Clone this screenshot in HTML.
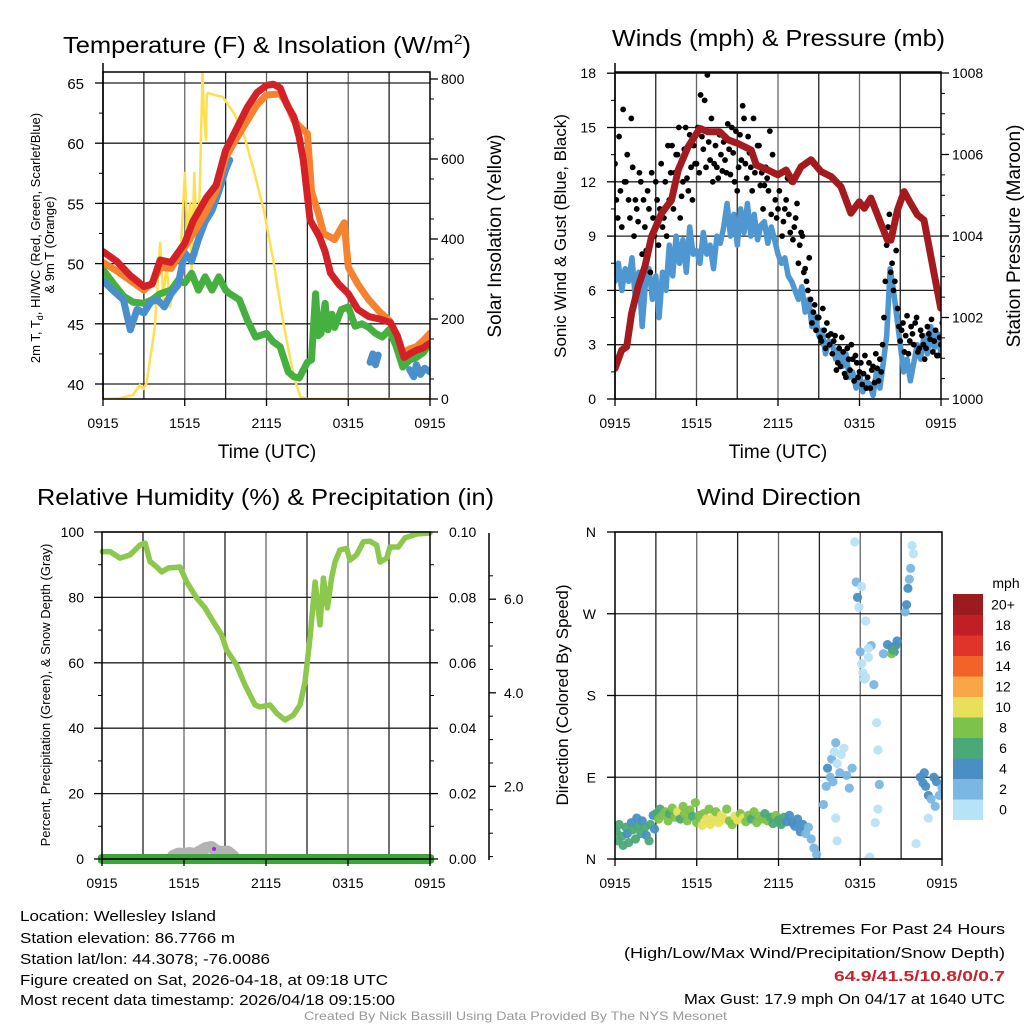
<!DOCTYPE html>
<html><head><meta charset="utf-8"><style>
html,body{margin:0;padding:0;background:#fff;}
svg{display:block;font-family:"Liberation Sans",sans-serif;}
</style></head><body>
<svg id="fig" width="1024" height="1024" viewBox="0 0 1024 1024" xmlns="http://www.w3.org/2000/svg">
<defs>
<clipPath id="c1"><rect x="103" y="72" width="327" height="327"/></clipPath>
<clipPath id="c2"><rect x="615" y="72" width="326" height="327"/></clipPath>
<clipPath id="c3"><rect x="98" y="532" width="336" height="334"/></clipPath>
<clipPath id="c4"><rect x="615" y="532" width="327" height="327"/></clipPath>
</defs>
<g font-size="23" fill="#000">
<text x="63" y="53" textLength="408" lengthAdjust="spacingAndGlyphs">Temperature (F) &amp; Insolation (W/m<tspan font-size="14" dy="-9">2</tspan><tspan dy="9">)</tspan></text>
<text x="612" y="46" textLength="333" lengthAdjust="spacingAndGlyphs">Winds (mph) &amp; Pressure (mb)</text>
<text x="37" y="505" textLength="457" lengthAdjust="spacingAndGlyphs">Relative Humidity (%) &amp; Precipitation (in)</text>
<text x="697" y="505" textLength="164" lengthAdjust="spacingAndGlyphs">Wind Direction</text>
</g>
<g font-size="19">
<text x="267" y="458" text-anchor="middle">Time (UTC)</text>
<text x="778" y="458" text-anchor="middle">Time (UTC)</text>
<text transform="translate(501,236) rotate(-90)" text-anchor="middle">Solar Insolation (Yellow)</text>
<text transform="translate(1020,236) rotate(-90)" text-anchor="middle">Station Pressure (Maroon)</text>
</g>
<text font-size="17" transform="translate(566,236) rotate(-90)" text-anchor="middle">Sonic Wind &amp; Gust (Blue, Black)</text>
<text font-size="17" transform="translate(568,695) rotate(-90)" text-anchor="middle">Direction (Colored By Speed)</text>
<text font-size="13" transform="translate(40,238) rotate(-90)" text-anchor="middle">2m T, T<tspan font-size="9" dy="3">d</tspan><tspan dy="-3">, HI/WC (Red, Green, Scarlet/Blue)</tspan></text>
<text font-size="13" transform="translate(54,245) rotate(-90)" text-anchor="middle">&amp; 9m T (Orange)</text>
<text font-size="13" transform="translate(50,695) rotate(-90)" text-anchor="middle">Percent, Precipitation (Green), &amp; Snow Depth (Gray)</text>
<g id="dyn"></g>
<g font-size="15">
<text x="20" y="921" textLength="196" lengthAdjust="spacingAndGlyphs">Location: Wellesley Island</text>
<text x="20" y="943" textLength="215" lengthAdjust="spacingAndGlyphs">Station elevation: 86.7766 m</text>
<text x="20" y="964" textLength="250" lengthAdjust="spacingAndGlyphs">Station lat/lon: 44.3078; -76.0086</text>
<text x="20" y="985" textLength="368" lengthAdjust="spacingAndGlyphs">Figure created on Sat, 2026-04-18, at 09:18 UTC</text>
<text x="20" y="1005" textLength="375" lengthAdjust="spacingAndGlyphs">Most recent data timestamp: 2026/04/18 09:15:00</text>
<text x="780" y="934" textLength="225" lengthAdjust="spacingAndGlyphs">Extremes For Past 24 Hours</text>
<text x="624" y="958" textLength="381" lengthAdjust="spacingAndGlyphs">(High/Low/Max Wind/Precipitation/Snow Depth)</text>
<text x="834" y="981" textLength="171" lengthAdjust="spacingAndGlyphs" fill="#cc2229" font-weight="bold">64.9/41.5/10.8/0/0.7</text>
<text x="684" y="1004" textLength="321" lengthAdjust="spacingAndGlyphs">Max Gust: 17.9 mph On 04/17 at 1640 UTC</text>
</g>
<text x="304" y="1020" font-size="12" fill="#999" textLength="423" lengthAdjust="spacingAndGlyphs">Created By Nick Bassill Using Data Provided By The NYS Mesonet</text>
</svg>
<script>
// ---------- data ----------
const xTickLabels = ["0915","1515","2115","0315","0915"];
const tempTicks = [40,45,50,55,60,65];
const solarTicks = [0,200,400,600,800];
const windTicks = [0,3,6,9,12,15,18];
const presTicks = [1000,1002,1004,1006,1008];
const rhTicks = [0,20,40,60,80,100];
const precipTicks = ["0.00","0.02","0.04","0.06","0.08","0.10"];
const snowTicks = [2.0,4.0,6.0];
const dirTicks = ["N","E","S","W","N"];
const cbLabels = ["0","2","4","6","8","10","12","14","16","18","20+"];
const cbColors = ["#b8e2f5","#7ab7e2","#4a8fc4","#4aa977","#7dc24a","#e8e05a","#f8a647","#f26327","#e0342a","#c11f25","#9b1b1e"];

const redH = [0,1,2,3,3.6,4.2,5,6,6.6,7.6,8.3,9,9.8,10.6,11.3,12,12.5,13,13.5,14,14.4,14.7,15.2,15.6,15.9,16.3,16.7,17.3,18,18.7,19.5,20.3,21.1,21.6,22.1,22.5,23,23.5,24];
const redT = [51.0,50.2,49.0,48.1,48.3,50.3,50.1,51.7,53.5,55.5,56.5,59.4,61.2,63.0,64.2,64.8,64.9,64.6,63.2,62.2,60.5,58.6,53.6,52.8,52.2,51.0,49.2,48.3,47.5,46.2,45.6,45.4,45.1,44.0,42.2,42.5,42.8,43.0,43.4];
const orangeH = [0,1,2,3,3.6,4.2,5,6,6.8,7.6,8.3,9,9.8,10.6,11.3,12,13,13.5,14,14.5,15,15.3,15.8,16.2,17,17.7,18,18.7,19.5,20.3,21,21.6,22,22.5,23,23.5,24];
const orangeT = [50.1,49.4,48.6,47.8,48.4,49.7,49.6,51.4,52.8,54.4,56.0,58.8,60.4,61.9,63.2,64.0,64.1,63.3,61.9,61.3,60.8,56.0,54.2,52.5,52.0,53.4,49.7,48.3,47.0,46.0,45.3,44.0,42.6,42.9,43.1,43.6,44.2];
const blueH = [0,0.7,1.5,2,2.5,3,3.5,4,4.5,5,5.5,6,6.5,7,7.5,8,8.5,9,9.3,null,19.6,19.8,20,20.2,null,22.5,22.8,23,23.3,23.6,24];
const blueT = [48.6,47.8,47.0,44.5,46.2,45.9,46.8,47.0,46.4,47.5,48.2,50.9,50.2,52.0,53.5,54.4,56.0,57.8,58.6,null,41.8,42.5,41.6,42.4,null,41.2,40.6,41.6,40.8,41.3,41.0];
const greenH = [0,0.8,1.5,2.2,3,3.6,4.2,5,5.5,6,6.5,7,7.5,8,8.5,9,9.3,10,10.6,11.2,12,12.5,13,13.6,14,14.4,15,15.3,15.6,15.8,16,16.3,16.5,16.8,17,17.5,18,18.5,19,19.5,20,20.5,21,21.5,22,22.5,23,23.5,24];
const greenT = [49.5,48.3,47.3,46.8,46.7,47.0,47.5,47.8,48.6,48.4,49.2,47.8,48.9,47.8,48.9,47.8,47.5,47.0,45.3,43.9,44.2,43.5,43.1,41.0,40.6,40.5,41.8,42.0,47.5,44.0,44.2,46.7,44.5,45.8,44.7,46.2,46.4,44.8,45.0,44.7,44.2,43.9,44.5,43.2,41.4,42.0,42.2,42.6,43.4];
const solarH = [0,1.25,2.2,2.7,2.96,3.2,3.45,3.8,4.2,4.43,4.67,4.9,5.15,5.4,5.65,6.0,6.2,6.4,6.5,6.7,6.9,7.1,7.3,7.4,7.55,7.62,7.7,8.2,8.8,9.6,10.3,11.0,11.8,12.5,13.2,14.0,14.5,15,24];
const solarW = [0,2,10,35,25,40,97,180,390,250,340,230,270,272,330,565,415,490,315,565,360,515,815,720,648,760,765,760,755,715,665,580,472,347,198,55,5,0,0];

const pressH = [0,0.49,0.86,1.22,1.71,2.2,2.69,3.43,4.16,4.65,5.38,6.24,6.85,7.71,8.32,9.05,10.03,10.4,11.25,11.99,12.6,13.09,13.7,14.44,15.17,15.9,16.64,17.37,17.98,18.35,18.84,19.57,20.06,20.31,20.8,21.28,21.77,22.26,22.75,23.49,23.98];
const pressMb = [1000.75,1001.2,1001.28,1002.1,1002.76,1003.25,1003.98,1004.56,1004.88,1005.62,1006.19,1006.64,1006.56,1006.56,1006.36,1006.27,1006.11,1005.74,1005.62,1005.5,1005.62,1005.33,1005.7,1005.87,1005.58,1005.46,1005.21,1004.56,1004.84,1004.68,1004.93,1004.31,1003.9,1003.9,1004.64,1005.09,1004.8,1004.52,1004.39,1003.08,1002.23];
const sonicMph = [6.5,7.5,6,7.2,6.5,7.8,5.5,7,4,6.5,7.2,5.5,6.8,4.5,7,6,
8.5,6.8,9,7.5,8.8,7,9.5,8,8.2,7.5,9.2,8,8.5,7.2,9,8.6,
9.5,10.8,9,10.2,8.5,10.5,9.2,10.8,9,10.2,8.8,9.6,9.8,8.6,9.5,8.8,
8,7.5,7.8,6.8,6.5,6,5.5,6.2,4.8,5.5,4,4.6,3.5,3.8,2.5,3.2,
3,2.2,2.8,1.8,2.5,1.2,1.5,0.6,1.4,0.4,1,0.8,0.2,1.5,0.6,2,
3.5,7.2,6,4.5,3,1.5,2.2,1,2,3,2.2,3.5,2.5,4,2.8,3.6,2.5];
const gustMph = [13,10,11.5,16,12,11,15.5,9,10.5,12.5,
8,9.5,11.5,7,10,12,8.5,13,10,9,
11,14,12.5,13.5,10,12,15,11.5,12.8,14,
13,12.5,14.5,16.5,17.9,13.2,12,14,12.2,13.5,
14.2,12.5,13.8,15,12,11.5,14.6,16.2,13,14.5,
12.8,15.5,13,14,12.5,11.8,12.2,14.8,13.5,11,
10.5,12.5,9.8,11,10.2,12,9.5,10.8,8.5,9,
7.2,6,5.5,4.8,3.8,4.5,3.2,3.8,4.2,3,
2.5,3.5,2,1.8,2.6,1.2,2.2,3,1,2,
1.5,0.8,2.4,1.2,0.6,1.8,2.5,1,1.5,4.5,
8.5,10.2,7.5,6.5,5,3.2,4.2,3.5,2.5,4,
3,4.5,2.8,3.5,2.2,4,3.3,2.6,3.8,2.4,3];
const gustMph2 = [11,14.5,9.5,12,13.5,10,12.8,11,9.8,12,
11,8.2,10.5,12.5,9,11,10.5,9.5,12,14,
12.5,10.5,13.5,15,11.2,13.8,12.2,14.6,11,13,
15,16.8,13.8,12.8,14.2,15.5,13,12.8,14.6,12.6,
13.2,15.2,12.4,13.6,14.8,12.8,13.2,15.5,12.2,13.6,
11.5,12.5,14,11.8,10.5,12.8,11.5,10.2,12.5,10,
11.5,9,10.5,12.2,9.2,8.8,10,7.5,9.2,7,
6.5,7.8,4.2,5.2,4.5,3.4,5,2.8,3.5,3.6,
3.2,1.6,2.8,3.4,1.4,2.8,1.6,2.2,2.4,1.2,
2,1.4,0.6,2,1.6,0.9,1.7,2.2,3,6.5,
9.5,7,6,8.2,4,3.8,2.6,4.6,3.2,3.6,
4.2,2.6,3.8,3,2.8,3.6,4.4,3.2,2.4,3.4,4.2];

const rhH = [0.02,0.59,1.32,2.05,2.78,3.15,3.51,4.0,4.37,4.85,5.71,6.2,6.93,7.54,8.15,8.76,9.12,9.85,10.46,11.2,11.56,12.29,12.78,13.39,14,14.49,14.85,15.22,15.59,15.95,16.2,16.49,16.8,17.05,17.41,17.9,18.15,18.63,19.12,19.61,20.1,20.34,20.83,21.07,21.68,22.17,23.02,24];
const rhPct = [94,94,92,93,96,96.6,91,89.3,87.8,89,89.3,84.7,79.8,76.8,72.5,68.5,63.9,59.3,53.2,47.1,46.5,47.1,44.6,42.5,44,47.1,54.1,67.6,84.7,71.6,85.9,76.8,86,90.8,94.5,95,91.4,93,97,97.2,96,90.8,92,95.4,95.4,98.2,99.4,99.7];
const snowH = [5.2,5.6,6.0,6.4,6.8,7.2,7.6,8.0,8.4,8.8,9.2,9.6];
const snowIn = [0,0.12,0.1,0.15,0.1,0.25,0.4,0.45,0.25,0.2,0.22,0];

const dirH = [0.1,0.2,0.3,0.5,0.6,0.8,0.9,1.0,1.2,1.3,1.5,1.6,1.7,1.9,2.0,2.2,2.3,2.5,2.6,2.8,2.9,
3.0,3.2,3.3,3.5,3.7,3.9,4.0,4.2,4.4,4.6,4.8,5.0,5.1,5.3,5.5,5.7,5.9,6.0,6.2,6.4,6.5,6.7,6.9,7.0,7.2,7.4,7.6,7.8,8.0,8.2,8.4,8.6,8.8,9.0,9.2,9.4,9.6,9.8,10.0,10.2,10.4,10.6,10.8,11.0,11.2,11.4,11.6,11.8,12.0,12.2,12.4,12.6,12.8,13.0,13.2,13.4,13.6,13.8,14.0,14.2,14.4,14.6,14.8,
15.3,15.5,15.6,15.8,15.9,16.0,16.1,16.2,16.3,16.5,16.6,16.8,17.0,17.2,17.4,16.2,16.3,
17.6,17.7,17.8,17.9,18.1,18.4,
18.0,18.2,18.4,18.6,18.8,18.1,19.0,18.3,18.6,
19.2,19.3,19.4,19.1,19.3,18.6,18.7,
20.3,20.5,20.6,20.3,20.4,20.0,19.7,20.7,
21.3,21.4,21.5,21.6,21.7,21.8,21.9,
22.4,22.6,22.8,23.0,23.2,23.4,23.6,23.8,24.0,23.5,22.7,23.0,22.1];
const dirDeg = [30,20,38,25,15,35,28,18,40,32,22,45,36,28,42,35,26,20,38,48,33,
50,44,55,48,52,42,50,56,46,52,44,58,50,42,54,47,62,40,48,37,50,44,55,38,46,52,40,48,44,55,42,38,47,43,50,45,41,48,44,52,40,47,44,50,42,46,39,48,43,38,46,41,48,40,36,44,30,38,28,35,22,12,5,
60,80,100,90,110,85,118,128,105,95,115,122,92,78,100,45,20,
349,305,288,277,300,262,
228,205,200,222,235,215,192,198,232,
150,120,82,40,55,0,2,
233,228,235,226,230,236,226,240,
272,280,298,308,320,345,336,
90,84,80,70,66,90,85,70,78,58,95,45,17];
const dirSpd = [6,6,6,6,6,6,4,6,4,6,6,4,6,6,4,6,4,6,6,4,4,
6,8,6,8,8,8,6,8,8,10,6,8,8,8,8,6,8,8,8,10,8,10,8,10,10,8,10,10,10,8,8,8,10,10,8,10,8,8,6,8,8,8,8,6,8,6,6,8,6,6,6,4,4,4,4,4,4,4,2,2,2,2,2,
2,2,4,2,2,2,0,2,0,2,0,0,2,2,2,0,0,
0,2,4,0,0,0,
2,0,0,0,2,0,2,0,0,
0,0,2,0,0,0,0,
4,4,4,8,6,4,2,4,
2,4,4,2,2,0,0,
4,4,4,4,2,4,4,2,2,2,4,0,0];

// ---------- drawing ----------
const NS = "http://www.w3.org/2000/svg";
const root = document.getElementById("dyn");
function mk(tag, attrs, parent){
  const e = document.createElementNS(NS, tag);
  for (const k in attrs) e.setAttribute(k, attrs[k]);
  (parent||root).appendChild(e);
  return e;
}
function pathFrom(xs, ys, xf, yf){
  let d = "", pen = false;
  for (let i=0;i<xs.length;i++){
    if (xs[i]===null || ys[i]===null){ pen=false; continue; }
    d += (pen?"L":"M") + xf(xs[i]).toFixed(1) + " " + yf(ys[i]).toFixed(1);
    pen = true;
  }
  return d;
}
function frame(name, L, R, T, B, vlines, hlines){
  const g = mk("g", {});
  
  
  vlines.forEach((x,i)=>{ mk("line",{x1:x,x2:x,y1:T,y2:B,stroke:i%2?"#666":"#222","stroke-width":1.3},g); });
  hlines.forEach(y=>{ mk("line",{x1:L,x2:R,y1:y,y2:y,stroke:"#222","stroke-width":1.3},g); });
  return g;
}
function border(name, L, R, T, B){
  const r = mk("rect",{x:L,y:T,width:R-L,height:B-T,fill:"none",stroke:"#000","stroke-width":1.5});
  
  
}
function tickLabel(name, x, y, txt, anchor, size){
  const t = mk("text",{x:x,y:y,"text-anchor":anchor||"middle","font-size":size||14});
  t.textContent = txt;
  
  
  return t;
}
function xAxis(name, L, R, B){
  xTickLabels.forEach((lab,i)=>{
    const x = L + i*(R-L)/4;
    mk("line",{x1:x,x2:x,y1:B,y2:B+7,stroke:"#000","stroke-width":1.3});
    tickLabel(name + '-x-tick', x, B+29, lab);
  });
}

// ===== Panel 1: temperature =====
(function(){
  const L=103,R=430,T=72,B=399;
  const xs = h => L + h/24*(R-L);
  const yT = t => 384 - (t-40)*12.04;
  const yS = w => 399 - w*0.4;
  const vl=[]; for(let i=1;i<8;i++) vl.push(L+i*(R-L)/8);
  frame("temperature", L, R, T, B, vl, tempTicks.map(yT));
  const cg = mk("g",{"clip-path":"url(#c1)"});
  
  
  const sol = mk("path",{d:pathFrom(solarH,solarW,xs,yS),fill:"none",stroke:"#fde052","stroke-width":2.5,"stroke-linejoin":"round"},cg);
  
  
  const gr = mk("path",{d:pathFrom(greenH,greenT,xs,yT),fill:"none",stroke:"#45b040","stroke-width":7,"stroke-linejoin":"round","stroke-linecap":"round"},cg);
  
  
  const bl = mk("path",{d:pathFrom(blueH,blueT,xs,yT),fill:"none",stroke:"#4a8fcc","stroke-width":7,"stroke-linejoin":"round","stroke-linecap":"round"},cg);
  
  
  const or = mk("path",{d:pathFrom(orangeH,orangeT,xs,yT),fill:"none",stroke:"#f5822f","stroke-width":7,"stroke-linejoin":"round","stroke-linecap":"round"},cg);
  
  
  const rd = mk("path",{d:pathFrom(redH,redT,xs,yT),fill:"none",stroke:"#d42027","stroke-width":7,"stroke-linejoin":"round","stroke-linecap":"round"},cg);
  
  
  border("temperature", L, R, T, B);
  mk("line",{x1:L,x2:L,y1:63,y2:B,stroke:"#000","stroke-width":1.5});
  tempTicks.forEach(t=>{ mk("line",{x1:L-8,x2:L,y1:yT(t),y2:yT(t),stroke:"#000","stroke-width":1.3}); tickLabel('temperature-y-tick', 84, yT(t)+6, String(t), "end", 15); });
  for(let t=42.5;t<65;t+=5){ mk("line",{x1:L-4,x2:L,y1:yT(t),y2:yT(t),stroke:"#000"}); }
  solarTicks.forEach(w=>{ mk("line",{x1:R,x2:R+8,y1:yS(w),y2:yS(w),stroke:"#000","stroke-width":1.3}); tickLabel('solar-y-tick', 441, yS(w)+5, String(w), "start", 14); });
  for(let w=50;w<800;w+=100){ mk("line",{x1:R,x2:R+4,y1:yS(w),y2:yS(w),stroke:"#000"}); }
  xAxis("temperature", L, R, B);
})();

// ===== Panel 2: winds =====
(function(){
  const L=615,R=941,T=72,B=399;
  const xs = h => L + h/24*(R-L);
  const yW = m => 399 - m*18.1;
  const yP = p => 399 - (p-1000)*40.75;
  const vl=[]; for(let i=1;i<8;i++) vl.push(L+i*(R-L)/8);
  frame("winds", L, R, T, B, vl, windTicks.map(yW));
  const cg = mk("g",{"clip-path":"url(#c2)"});
  
  
  const sh = sonicMph.map((v,i)=>i*0.25);
  const sw = mk("path",{d:pathFrom(sh,sonicMph,xs,yW),fill:"none",stroke:"#4f97d1","stroke-width":5.5,"stroke-linejoin":"round","stroke-linecap":"round"},cg);
  
  
  gustMph.forEach((g,i)=>{
    const c = mk("circle",{cx:xs(i*0.2),cy:yW(g),r:2.9,fill:"#000"},cg);
    
    
  });
  gustMph2.forEach((g,i)=>{
    const c = mk("circle",{cx:xs(i*0.2+0.1),cy:yW(g),r:2.9,fill:"#000"},cg);
    
    
  });
  const pr = mk("path",{d:pathFrom(pressH,pressMb,xs,yP),fill:"none",stroke:"#a31b1e","stroke-width":7,"stroke-linejoin":"round","stroke-linecap":"round"},cg);
  
  
  border("winds", L, R, T, B);
  mk("line",{x1:L,x2:L,y1:63,y2:B,stroke:"#000","stroke-width":1.5});
  windTicks.forEach(m=>{ mk("line",{x1:L-8,x2:L,y1:yW(m),y2:yW(m),stroke:"#000","stroke-width":1.3}); tickLabel('wind-y-tick', 596, yW(m)+5, String(m), "end", 14); });
  for(let m=1.5;m<18;m+=3){ mk("line",{x1:L-4,x2:L,y1:yW(m),y2:yW(m),stroke:"#000"}); }
  presTicks.forEach(p=>{ mk("line",{x1:R,x2:R+8,y1:yP(p),y2:yP(p),stroke:"#000","stroke-width":1.3}); tickLabel('pressure-y-tick', 952, yP(p)+5, String(p), "start", 14); });
  for(let p=1000.5;p<1008;p+=0.5){ if(p%2) mk("line",{x1:R,x2:R+4,y1:yP(p),y2:yP(p),stroke:"#000"}); }
  xAxis("winds", L, R, B);
})();

// ===== Panel 3: humidity =====
(function(){
  const L=102,R=430,T=532,B=859;
  const xs = h => L + h/24*(R-L);
  const yR = r => 859 - r*3.27;
  const ySn = s => 880 - s*46.8;
  const vl=[]; for(let i=1;i<8;i++) vl.push(L+i*(R-L)/8);
  frame("humidity", L, R, T, B, vl, rhTicks.map(yR));
  const cg = mk("g",{"clip-path":"url(#c3)"});
  
  
  const sn = mk("path",{d:pathFrom(snowH,snowIn,xs,v=>856-v*20),fill:"none",stroke:"#b3b3b3","stroke-width":12,"stroke-linejoin":"round","stroke-linecap":"round"},cg);
  
  
  const pc = mk("line",{x1:L,x2:R,y1:859,y2:859,stroke:"#3da53a","stroke-width":10,"stroke-linecap":"round"},cg);
  
  
  const rh = mk("path",{d:pathFrom(rhH,rhPct,xs,yR),fill:"none",stroke:"#8cc84b","stroke-width":5.5,"stroke-linejoin":"round","stroke-linecap":"round"},cg);
  
  
  const pd = mk("circle",{cx:xs(8.2),cy:849,r:2,fill:"#a020f0"});
  
  
  border("humidity", L, R, T, B);
  rhTicks.forEach(r=>{ mk("line",{x1:L-8,x2:L,y1:yR(r),y2:yR(r),stroke:"#000","stroke-width":1.3}); tickLabel('humidity-y-tick', 84, yR(r)+5, String(r), "end", 14); });
  for(let r=10;r<100;r+=20){ mk("line",{x1:L-4,x2:L,y1:yR(r),y2:yR(r),stroke:"#000"}); }
  precipTicks.forEach((p,i)=>{ const y=859-i*65.4; mk("line",{x1:R,x2:R+8,y1:y,y2:y,stroke:"#000","stroke-width":1.3}); tickLabel('precip-y-tick', 449, y+5, p, "start", 14); });
  for(let i=0;i<5;i++){ const y=859-(i+0.5)*65.4; mk("line",{x1:R,x2:R+4,y1:y,y2:y,stroke:"#000"}); }
  const sa = mk("line",{x1:489,x2:489,y1:533,y2:860,stroke:"#000","stroke-width":1.5});
  
  
  snowTicks.forEach(s=>{ mk("line",{x1:489,x2:496,y1:ySn(s),y2:ySn(s),stroke:"#000","stroke-width":1.3}); tickLabel('snow-y-tick', 504, ySn(s)+5, s.toFixed(1), "start", 14); });
  for(let s=0.5;s<7;s+=0.5){ if(ySn(s)>534 && s%2) mk("line",{x1:489,x2:493,y1:ySn(s),y2:ySn(s),stroke:"#000"}); }
  xAxis("humidity", L, R, B);
})();

// ===== Panel 4: direction =====
(function(){
  const L=615,R=942,T=532,B=859;
  const xs = h => L + h/24*(R-L);
  const yD = d => 859 - d/360*327;
  const vl=[]; for(let i=1;i<8;i++) vl.push(L+i*(R-L)/8);
  frame("direction", L, R, T, B, vl, [0,90,180,270,360].map(yD));
  const cg = mk("g",{"clip-path":"url(#c4)"});
  
  
  dirH.forEach((h,i)=>{
    const idx = Math.min(10, Math.round(dirSpd[i]/2));
    const c = mk("circle",{cx:xs(h),cy:yD(dirDeg[i]),r:4.6,fill:cbColors[idx],"fill-opacity":0.95},cg);
    
    
  });
  border("direction", L, R, T, B);
  dirTicks.forEach((lab,i)=>{ const y=yD(i*90); mk("line",{x1:L-8,x2:L,y1:y,y2:y,stroke:"#000","stroke-width":1.3}); tickLabel('direction-y-tick', 596, y+5, lab, "end", 14); });
  xAxis("direction", L, R, B);
  // colorbar
  const top=594, bh=20.5;
  cbColors.forEach((c,i)=>{
    const y = top + (10-i)*bh;
    const r = mk("rect",{x:953,y:y,width:30,height:bh+0.5,fill:c});
    
    
    tickLabel('colorbar-label', 1003, y+bh/2+5, cbLabels[i], "middle", 14);
  });
  tickLabel('colorbar-unit', 1006, 588, "mph", "middle", 14);
})();
</script>
</body></html>
